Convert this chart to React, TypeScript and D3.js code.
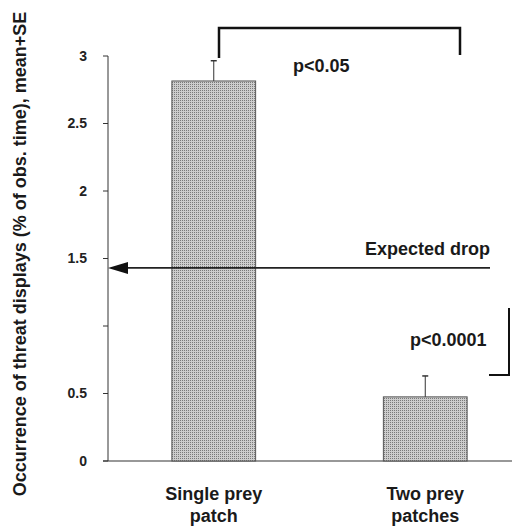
import React from "react";
import * as d3 from "d3";

const categories = ["Single prey\npatch", "Two prey\npatches"];
const means = [2.815, 0.475];
const ses = [0.15, 0.155];
const yTicks = [0, 0.5, 1, 1.5, 2, 2.5, 3];
const yTickLabels = ["0", "0.5", "", "1.5", "2", "2.5", "3"];
const expectedDrop = 1.43;
const yLabel = "Occurrence of threat displays (% of obs. time), mean+SE";

const W = 517;
const H = 527;
const FONT = "'Liberation Sans', Arial, sans-serif";

export default function App() {
  const y = d3.scaleLinear().domain([0, 3]).range([461, 56]);
  const x = d3
    .scaleBand<string>()
    .domain(categories)
    .range([108, 531])
    .paddingInner(0.604)
    .paddingOuter(0.302);
  const bw = x.bandwidth();
  const axisX = 108;

  const cx = (c: string) => (x(c) as number) + bw / 2;

  return (
    <svg
      width={W}
      height={H}
      style={{ position: "absolute", left: 0, top: 0, background: "#fff" }}
      fontFamily={FONT}
      fontWeight="bold"
    >
      <defs>
        <pattern id="dots" width="2" height="2" patternUnits="userSpaceOnUse">
          <rect width="2" height="2" fill="#cdcdcd" />
          <rect width="1" height="1" fill="#7a7a7a" />
        </pattern>
      </defs>

      {/* y axis */}
      <line x1={axisX} x2={axisX} y1={y(3)} y2={y(0)} stroke="#333" strokeWidth={1} />
      {yTicks.map((t, i) => (
        <g key={t}>
          <line x1={axisX - 5} x2={axisX} y1={y(t)} y2={y(t)} stroke="#333" strokeWidth={1} />
          <text x={87} y={y(t)} dy="0.35em" textAnchor="end" fontSize={14} fill="#222">
            {yTickLabels[i]}
          </text>
        </g>
      ))}

      {/* baseline */}
      <line x1={103} x2={512} y1={y(0)} y2={y(0)} stroke="#333" strokeWidth={1.2} />

      {/* bars */}
      {categories.map((c, i) => (
        <g key={c}>
          <rect
            x={x(c)}
            y={y(means[i])}
            width={bw}
            height={y(0) - y(means[i])}
            fill="url(#dots)"
            stroke="#555"
            strokeWidth={1}
          />
          <line
            x1={cx(c)}
            x2={cx(c)}
            y1={y(means[i])}
            y2={y(means[i] + ses[i])}
            stroke="#333"
            strokeWidth={1}
          />
          <line
            x1={cx(c) - 3}
            x2={cx(c) + 3}
            y1={y(means[i] + ses[i])}
            y2={y(means[i] + ses[i])}
            stroke="#333"
            strokeWidth={1.5}
          />
          {c.split("\n").map((ln, j) => (
            <text key={j} x={cx(c)} y={500 + j * 22} textAnchor="middle" fontSize={18} fill="#1a1a1a">
              {ln}
            </text>
          ))}
        </g>
      ))}

      {/* expected drop arrow */}
      <line x1={490} x2={128} y1={y(expectedDrop)} y2={y(expectedDrop)} stroke="#222" strokeWidth={1.8} />
      <path
        d={`M${axisX},${y(expectedDrop)} L${axisX + 20},${y(expectedDrop) - 6} L${axisX + 20},${y(expectedDrop) + 6} Z`}
        fill="#111"
      />
      <text x={490} y={255} textAnchor="end" fontSize={18} fill="#1a1a1a">
        Expected drop
      </text>

      {/* top bracket p<0.05 */}
      <path d={`M219,58 L219,28 L460,28 L460,55`} fill="none" stroke="#111" strokeWidth={2.5} />
      <text x={293} y={72} fontSize={18} fill="#1a1a1a">
        p&lt;0.05
      </text>

      {/* right bracket p<0.0001 */}
      <path d={`M509,308 L509,375 L489,375`} fill="none" stroke="#111" strokeWidth={2} />
      <text x={410} y={346} fontSize={18} fill="#1a1a1a">
        p&lt;0.0001
      </text>

      {/* y label */}
      <text transform={`translate(26,254) rotate(-90)`} textAnchor="middle" fontSize={18} fill="#1a1a1a">
        {yLabel}
      </text>
    </svg>
  );
}
